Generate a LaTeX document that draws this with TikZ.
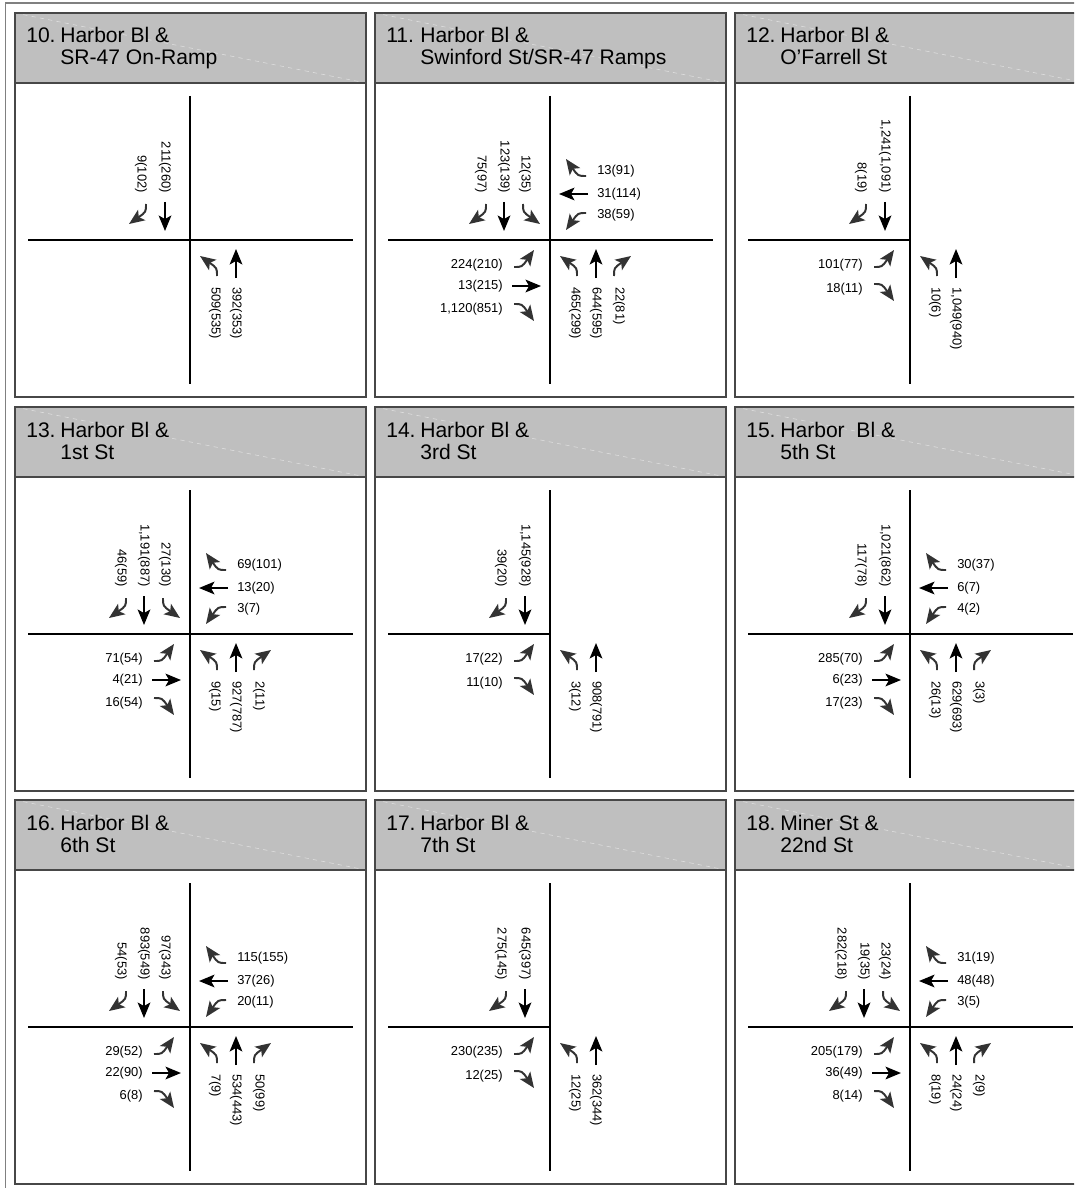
\documentclass[tikz,border=0pt]{standalone}
\usepackage{fontspec}
\setmainfont{Liberation Sans}
\usetikzlibrary{arrows.meta}

\tikzset{
  cabecera/.style={fill=black!25},
  brillo/.style={white, dashed, line width=0.4pt, opacity=0.5},
  borde/.style={draw=black!72, line width=1.2pt},
  marcoext/.style={black!50, line width=1.3pt},
  calle/.style={black, line width=0.9pt},
  titulo/.style={anchor=base west, inner sep=0pt, font=\fontsize{15}{17}\selectfont},
  rotulo/.style={inner sep=0pt, font=\fontsize{9.2}{10}\selectfont},
  etq/.style={rotulo},
  recto/.style={black, line width=1.4pt, -{Stealth[length=11pt,width=9pt,inset=2.5pt]}},
  giro/.style={recto, black!80},
  haciaS/.style={shift={(#1)}, etq/.style={rotulo,rotate=-90,anchor=east}},
  haciaE/.style={shift={(#1)}, rotate=90, etq/.style={rotulo,anchor=east}},
  haciaN/.style={shift={(#1)}, rotate=180, etq/.style={rotulo,rotate=-90,anchor=west}},
  haciaO/.style={shift={(#1)}, rotate=-90, etq/.style={rotulo,anchor=west}},
}

% Recuadro con cabecera: X, Y, numero, linea 1, linea 2, id
\newcommand{\marco}[6]{
  \fill[cabecera] (#1,-#2) rectangle ++(351,-70);
  \draw[brillo] (#1,-#2) -- ++(351,-70);
  \draw[borde] (#1,-#2) rectangle ++(351,-384);
  \draw[borde] (#1,-#2-70) -- ++(351,0);
  \node[titulo] (t#6n) at (#1+11,-#2-30) {#3};
  \node[titulo] (t#6a) at (#1+45,-#2-30) {#4};
  \node[titulo] (t#6b) at (#1+45,-#2-52) {#5};
}
% Calles: X, Y, fin de la calle horizontal
\newcommand{\calles}[3]{
  \draw[calle] (#1+175,-#2-83) -- (#1+175,-#2-371);
  \draw[calle] (#1+13,-#2-227) -- (#1+#3,-#2-227);
}
% Movimientos (carril, volumen, nombre)
\newcommand{\vIzq}[3]{
  \draw[giro] (#1-2,36) .. controls (#1-2,28) .. (#1+15,16);
  \node[etq] (#3) at (#1,47) {#2};
}
\newcommand{\vDer}[3]{
  \draw[giro] (#1+2,36) .. controls (#1+2,28) .. (#1-15,16);
  \node[etq] (#3) at (#1-3,47) {#2};
}
\newcommand{\vRecto}[3]{
  \draw[recto] (#1,38) -- (#1,9);
  \node[etq] (#3) at (#1,47) {#2};
}

\begin{document}
\begin{tikzpicture}[x=0.025cm, y=0.025cm]
  \useasboundingbox (0,0) rectangle (1074,-1188);
  \clip (0,0) rectangle (1074,-1188);

  % Marco exterior
  \draw[marcoext] (5.5,-1190) -- (5.5,-3) -- (1080,-3);

  % 10. Harbor Bl & SR-47 On-Ramp
  \marco{15}{13}{10.}{Harbor Bl \&}{SR-47 On-Ramp}{10}
  \calles{15}{13}{338}
  \coordinate (c10) at (190,-240);
  \begin{scope}[haciaS=c10]
    \vDer{-46}{9(102)}{n10sd}
    \vRecto{-25}{211(260)}{n10sr}
  \end{scope}
  \begin{scope}[haciaN=c10]
    \vIzq{-25}{509(535)}{n10ni}
    \vRecto{-46}{392(353)}{n10nr}
  \end{scope}

  % 11. Harbor Bl & Swinford St/SR-47 Ramps
  \marco{375}{13}{11.}{Harbor Bl \&}{Swinford St/SR-47 Ramps}{11}
  \calles{375}{13}{338}
  \coordinate (c11) at (550,-240);
  \begin{scope}[haciaS=c11]
    \vDer{-66}{75(97)}{n11sd}
    \vRecto{-46}{123(139)}{n11sr}
    \vIzq{-25}{12(35)}{n11si}
  \end{scope}
  \begin{scope}[haciaO=c11]
    \vDer{-66}{13(91)}{n11od}
    \vRecto{-46}{31(114)}{n11or}
    \vIzq{-25}{38(59)}{n11oi}
  \end{scope}
  \begin{scope}[haciaE=c11]
    \vIzq{-25}{224(210)}{n11ei}
    \vRecto{-46}{13(215)}{n11er}
    \vDer{-66}{1,120(851)}{n11ed}
  \end{scope}
  \begin{scope}[haciaN=c11]
    \vIzq{-25}{465(299)}{n11ni}
    \vRecto{-46}{644(595)}{n11nr}
    \vDer{-66}{22(81)}{n11nd}
  \end{scope}

  % 12. Harbor Bl & O'Farrell St
  \marco{735}{13}{12.}{Harbor Bl \&}{O'Farrell St}{12}
  \calles{735}{13}{175}
  \coordinate (c12) at (910,-240);
  \begin{scope}[haciaS=c12]
    \vDer{-46}{8(19)}{n12sd}
    \vRecto{-25}{1,241(1,091)}{n12sr}
  \end{scope}
  \begin{scope}[haciaE=c12]
    \vIzq{-25}{101(77)}{n12ei}
    \vDer{-46}{18(11)}{n12ed}
  \end{scope}
  \begin{scope}[haciaN=c12]
    \vIzq{-25}{10(6)}{n12ni}
    \vRecto{-46}{1,049(940)}{n12nr}
  \end{scope}

  % 13. Harbor Bl & 1st St
  \marco{15}{407}{13.}{Harbor Bl \&}{1st St}{13}
  \calles{15}{407}{338}
  \coordinate (c13) at (190,-634);
  \begin{scope}[haciaS=c13]
    \vDer{-66}{46(59)}{n13sd}
    \vRecto{-46}{1,191(887)}{n13sr}
    \vIzq{-25}{27(130)}{n13si}
  \end{scope}
  \begin{scope}[haciaO=c13]
    \vDer{-66}{69(101)}{n13od}
    \vRecto{-46}{13(20)}{n13or}
    \vIzq{-25}{3(7)}{n13oi}
  \end{scope}
  \begin{scope}[haciaE=c13]
    \vIzq{-25}{71(54)}{n13ei}
    \vRecto{-46}{4(21)}{n13er}
    \vDer{-66}{16(54)}{n13ed}
  \end{scope}
  \begin{scope}[haciaN=c13]
    \vIzq{-25}{9(15)}{n13ni}
    \vRecto{-46}{927(787)}{n13nr}
    \vDer{-66}{2(11)}{n13nd}
  \end{scope}

  % 14. Harbor Bl & 3rd St
  \marco{375}{407}{14.}{Harbor Bl \&}{3rd St}{14}
  \calles{375}{407}{175}
  \coordinate (c14) at (550,-634);
  \begin{scope}[haciaS=c14]
    \vDer{-46}{39(20)}{n14sd}
    \vRecto{-25}{1,145(928)}{n14sr}
  \end{scope}
  \begin{scope}[haciaE=c14]
    \vIzq{-25}{17(22)}{n14ei}
    \vDer{-46}{11(10)}{n14ed}
  \end{scope}
  \begin{scope}[haciaN=c14]
    \vIzq{-25}{3(12)}{n14ni}
    \vRecto{-46}{908(791)}{n14nr}
  \end{scope}

  % 15. Harbor Bl & 5th St
  \marco{735}{407}{15.}{Harbor\ \ Bl \&}{5th St}{15}
  \calles{735}{407}{338}
  \coordinate (c15) at (910,-634);
  \begin{scope}[haciaS=c15]
    \vDer{-46}{117(78)}{n15sd}
    \vRecto{-25}{1,021(862)}{n15sr}
  \end{scope}
  \begin{scope}[haciaO=c15]
    \vDer{-66}{30(37)}{n15od}
    \vRecto{-46}{6(7)}{n15or}
    \vIzq{-25}{4(2)}{n15oi}
  \end{scope}
  \begin{scope}[haciaE=c15]
    \vIzq{-25}{285(70)}{n15ei}
    \vRecto{-46}{6(23)}{n15er}
    \vDer{-66}{17(23)}{n15ed}
  \end{scope}
  \begin{scope}[haciaN=c15]
    \vIzq{-25}{26(13)}{n15ni}
    \vRecto{-46}{629(693)}{n15nr}
    \vDer{-66}{3(3)}{n15nd}
  \end{scope}

  % 16. Harbor Bl & 6th St
  \marco{15}{800}{16.}{Harbor Bl \&}{6th St}{16}
  \calles{15}{800}{338}
  \coordinate (c16) at (190,-1027);
  \begin{scope}[haciaS=c16]
    \vDer{-66}{54(53)}{n16sd}
    \vRecto{-46}{893(549)}{n16sr}
    \vIzq{-25}{97(343)}{n16si}
  \end{scope}
  \begin{scope}[haciaO=c16]
    \vDer{-66}{115(155)}{n16od}
    \vRecto{-46}{37(26)}{n16or}
    \vIzq{-25}{20(11)}{n16oi}
  \end{scope}
  \begin{scope}[haciaE=c16]
    \vIzq{-25}{29(52)}{n16ei}
    \vRecto{-46}{22(90)}{n16er}
    \vDer{-66}{6(8)}{n16ed}
  \end{scope}
  \begin{scope}[haciaN=c16]
    \vIzq{-25}{7(9)}{n16ni}
    \vRecto{-46}{534(443)}{n16nr}
    \vDer{-66}{50(99)}{n16nd}
  \end{scope}

  % 17. Harbor Bl & 7th St
  \marco{375}{800}{17.}{Harbor Bl \&}{7th St}{17}
  \calles{375}{800}{175}
  \coordinate (c17) at (550,-1027);
  \begin{scope}[haciaS=c17]
    \vDer{-46}{275(145)}{n17sd}
    \vRecto{-25}{645(397)}{n17sr}
  \end{scope}
  \begin{scope}[haciaE=c17]
    \vIzq{-25}{230(235)}{n17ei}
    \vDer{-46}{12(25)}{n17ed}
  \end{scope}
  \begin{scope}[haciaN=c17]
    \vIzq{-25}{12(25)}{n17ni}
    \vRecto{-46}{362(344)}{n17nr}
  \end{scope}

  % 18. Miner St & 22nd St
  \marco{735}{800}{18.}{Miner St \&}{22nd St}{18}
  \calles{735}{800}{338}
  \coordinate (c18) at (910,-1027);
  \begin{scope}[haciaS=c18]
    \vDer{-66}{282(218)}{n18sd}
    \vRecto{-46}{19(35)}{n18sr}
    \vIzq{-25}{23(24)}{n18si}
  \end{scope}
  \begin{scope}[haciaO=c18]
    \vDer{-66}{31(19)}{n18od}
    \vRecto{-46}{48(48)}{n18or}
    \vIzq{-25}{3(5)}{n18oi}
  \end{scope}
  \begin{scope}[haciaE=c18]
    \vIzq{-25}{205(179)}{n18ei}
    \vRecto{-46}{36(49)}{n18er}
    \vDer{-66}{8(14)}{n18ed}
  \end{scope}
  \begin{scope}[haciaN=c18]
    \vIzq{-25}{8(19)}{n18ni}
    \vRecto{-46}{24(24)}{n18nr}
    \vDer{-66}{2(9)}{n18nd}
  \end{scope}
\end{tikzpicture}
\end{document}
